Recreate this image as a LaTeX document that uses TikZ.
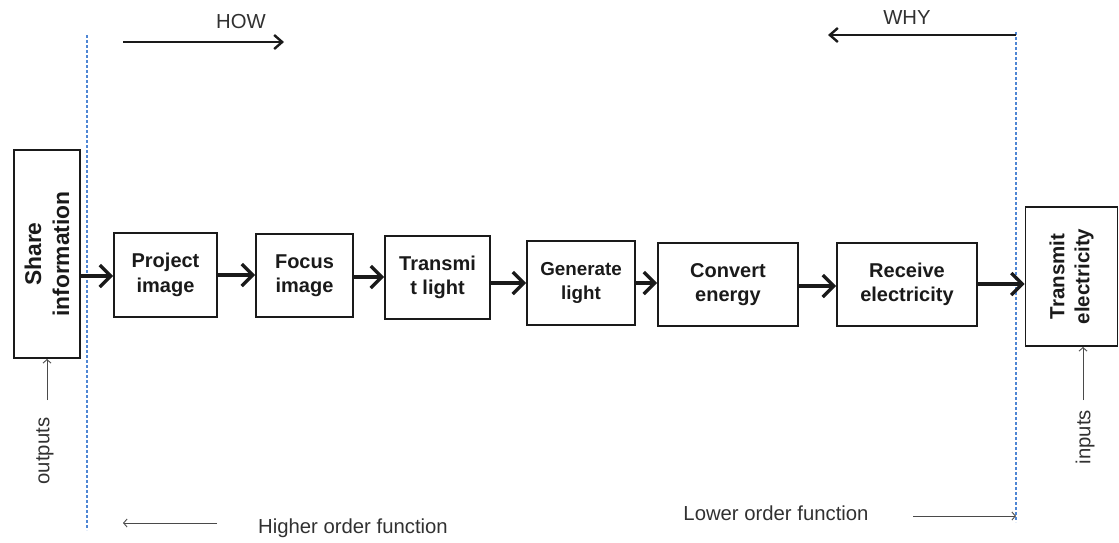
\documentclass[tikz,border=0pt]{standalone}
\usepackage{fontspec}
\setmainfont{Liberation Sans}
\usetikzlibrary{arrows.meta}
\definecolor{txt}{HTML}{1A1A1A}
\definecolor{guide}{HTML}{4F86D4}
\definecolor{thin}{HTML}{4A4A4A}
\tikzset{
  fbox/.style={draw=txt, line width=1.7pt, align=center, inner sep=0pt,
    font=\fontsize{20}{24.5}\selectfont\bfseries, text=txt},
  flow/.style={line width=4pt, draw=txt, -{Straight Barb[length=11pt,width=22pt,line width=3.4pt]}},
  dirarrow/.style={line width=2.6pt, draw=txt, -{Straight Barb[length=8pt,width=14pt,line width=2.4pt]}},
  thinarrow/.style={line width=1pt, draw=thin, -{Straight Barb[length=3.5pt,width=8pt,line width=0.9pt]}},
  guideline/.style={draw=guide, line width=1.5pt, dash pattern=on 3pt off 2pt},
  lbl/.style={font=\fontsize{20.3}{24}\selectfont, text=txt!90, inner sep=0pt}
}
\begin{document}
\begin{tikzpicture}[x=1pt,y=-1pt]
\useasboundingbox (0,0) rectangle (1119,542);
% guide lines
\coordinate (gl1) at (87,35);  \coordinate (gl2) at (87,530);
\coordinate (gr1) at (1016,32); \coordinate (gr2) at (1016,522);
\draw[guideline] (gl1) -- (gl2);
\draw[guideline] (gr1) -- (gr2);
% boxes
\node[fbox, rotate=90, minimum width=208pt, minimum height=66pt, font=\fontsize{22.8}{28}\selectfont\bfseries] (share) at (47,254) {Share\\information};
\node[fbox, minimum width=103pt, minimum height=84pt] (proj) at (165.5,275) {Project\\image};
\node[fbox, minimum width=97pt, minimum height=83pt] (focus) at (304.5,275.5) {Focus\\image};
\node[fbox, minimum width=105pt, minimum height=83pt] (trans) at (437.5,277.5) {Transmi\\t light};
\node[fbox, minimum width=108pt, minimum height=84pt, font=\fontsize{18.8}{24}\selectfont\bfseries] (gen) at (581,283) {Generate\\light};
\node[fbox, minimum width=140pt, minimum height=83pt] (conv) at (728,284.5) {Convert\\energy};
\node[fbox, minimum width=140pt, minimum height=83pt] (recv) at (907,284.5) {Receive\\electricity};
\node[fbox, rotate=90, minimum width=139pt, minimum height=92pt, font=\fontsize{20.5}{25}\selectfont\bfseries] (telec) at (1071.5,276.5) {Transmit\\electricity};
% flow arrows
\draw[flow] (share.south |- 0,276) -- (proj.west |- 0,276);
\draw[flow] (proj.east |- 0,275) -- (focus.west |- 0,275);
\draw[flow] (focus.east |- 0,277) -- (trans.west |- 0,277);
\draw[flow] (trans.east |- 0,283) -- (gen.west |- 0,283);
\draw[flow] (gen.east |- 0,283) -- (conv.west |- 0,283);
\draw[flow] (conv.east |- 0,286) -- (recv.west |- 0,286);
\draw[flow] (recv.east |- 0,284) -- (telec.north |- 0,284);
% HOW / WHY
\coordinate (how1) at (123,42); \coordinate (how2) at (284,42);
\draw[dirarrow] (how1) -- (how2);
\node[lbl] (how) at (241,22) {HOW};
\coordinate (why1) at (1016,35); \coordinate (why2) at (828,35);
\draw[dirarrow] (why1) -- (why2);
\node[lbl] (why) at (907,18) {WHY};
% outputs / inputs
\coordinate (out0) at (47,400);
\draw[thinarrow] (out0) -- (share.west |- 0,359);
\node[lbl, rotate=90] (outputs) at (45,451) {outputs};
\coordinate (in0) at (1083,400);
\draw[thinarrow] (in0) -- (1083,347);
\node[lbl, rotate=90] (inputs) at (1085,437) {inputs};
% order functions
\coordinate (hi1) at (217,523); \coordinate (hi2) at (123,523);
\draw[thinarrow] (hi1) -- (hi2);
\node[lbl] (higher) at (353,528) {Higher order function};
\coordinate (lo1) at (913,516); \coordinate (lo2) at (1016,516);
\draw[thinarrow] (lo1) -- (lo2);
\node[lbl] (lower) at (776,513) {Lower order function};
\end{tikzpicture}
\end{document}
